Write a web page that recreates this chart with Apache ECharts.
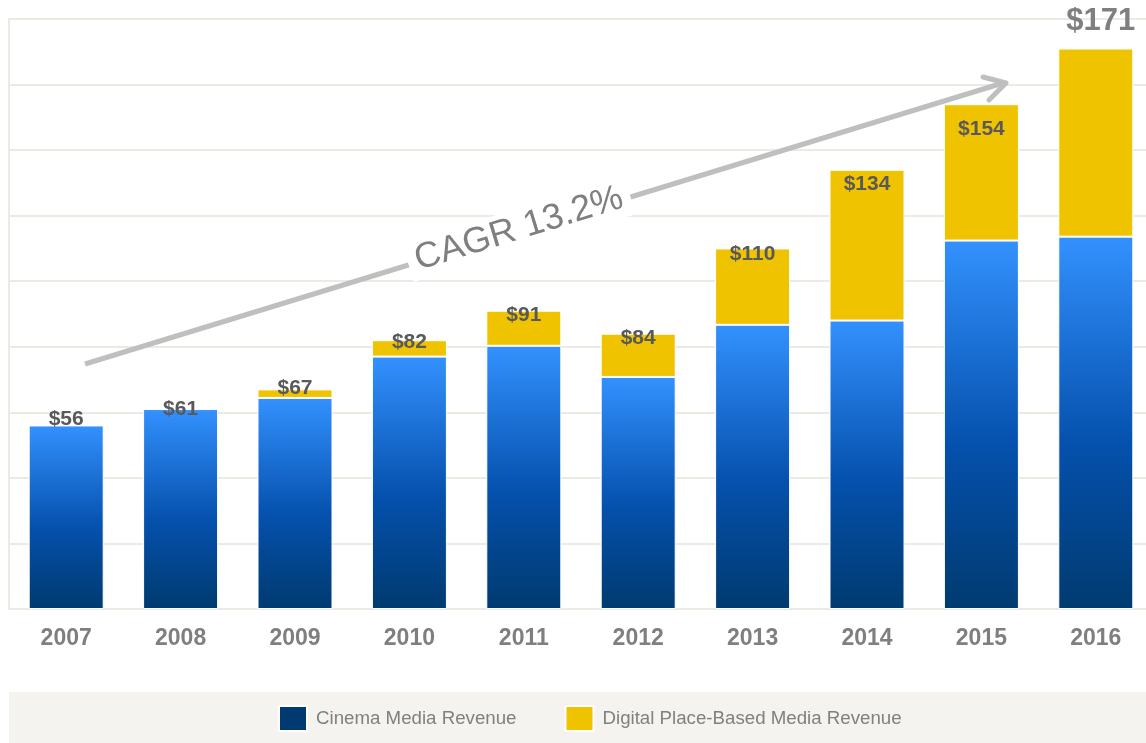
<!DOCTYPE html>
<html>
<head>
<meta charset="utf-8">
<script src="https://cdn.jsdelivr.net/npm/echarts@6/dist/echarts.min.js"></script>
<style>
  html, body { margin: 0; padding: 0; background: #fff; }
  #chart { width: 1146px; height: 743px; }
</style>
</head>
<body>
<div id="chart"></div>
<script>
// revenue ($M)
var years = ['2007', '2008', '2009', '2010', '2011', '2012', '2013', '2014', '2015', '2016']
var cinema = [56, 61, 64.4, 77, 80.3, 70.8, 86.7, 88, 112.4, 113.6]
var digital = [0, 0, 2.6, 5, 10.7, 13.2, 23.3, 46, 41.6, 57.4]
var totals = [56, 61, 67, 82, 91, 84, 110, 134, 154, 171]
var cagrText = 'CAGR 13.2%'

var chart = echarts.init(document.getElementById('chart'))

var gridColor = '#ECEAE2'
var font = 'Liberation Sans, Arial, sans-serif'

// label nudges (px, down) - the labels in the original sit at hand-placed spots
var labelNudge = [3.5, 10, 9, 11.5, 14, 14.5, 16, 24, 35, -12]

var blueGrad = new echarts.graphic.LinearGradient(0, 0, 0, 1, [
  { offset: 0, color: '#3391FE' },
  { offset: 0.55, color: '#0551AE' },
  { offset: 1, color: '#003A6F' }
])

var digitalData = digital.map(function (v, i) {
  var last = i === years.length - 1
  return {
    value: v,
    itemStyle: v === 0 ? { borderWidth: 0 } : {},
    label: {
      show: true,
      position: 'top',
      distance: 0,
      offset: [last ? 5 : 0, labelNudge[i]],
      formatter: '$' + totals[i],
      color: last ? '#7F7F7F' : '#595959',
      fontSize: last ? 31 : 21,
      lineHeight: last ? 30 : 20,
      fontWeight: 'bold',
      fontFamily: font
    }
  }
})

chart.setOption({
  animation: false,
  backgroundColor: '#fff',
  grid: { left: 9, top: 19, width: 1144, height: 590, outerBoundsMode: 'none' },
  xAxis: {
    type: 'category',
    data: years,
    axisLine: { lineStyle: { color: gridColor, width: 2 } },
    axisTick: { show: false },
    axisLabel: {
      color: '#7F7F7F',
      fontSize: 23,
      fontWeight: 'bold',
      fontFamily: font,
      margin: 18
    }
  },
  yAxis: {
    type: 'value',
    min: 0,
    max: 180,
    interval: 20,
    axisLabel: { show: false },
    axisTick: { show: false },
    axisLine: { show: true, lineStyle: { color: gridColor, width: 2 } },
    splitLine: { lineStyle: { color: gridColor, width: 2 } }
  },
  legend: {
    left: 273,
    top: 700,
    itemWidth: 28,
    itemHeight: 25,
    itemGap: 48,
    icon: 'rect',
    textStyle: { color: '#808080', fontSize: 18.7, fontFamily: font, padding: [0, 0, 0, 4] },
    data: [
      { name: 'Cinema Media Revenue', itemStyle: { color: '#003A70', borderColor: '#fff', borderWidth: 2 } },
      { name: 'Digital Place-Based Media Revenue', itemStyle: { color: '#F0C300', borderColor: '#fff', borderWidth: 2 } }
    ]
  },
  series: [
    {
      name: 'Cinema Media Revenue',
      type: 'bar',
      stack: 'rev',
      barWidth: 75,
      itemStyle: { color: blueGrad, borderColor: '#fff', borderWidth: 1 },
      data: cinema
    },
    {
      name: 'Digital Place-Based Media Revenue',
      type: 'bar',
      stack: 'rev',
      itemStyle: { color: '#F0C300', borderColor: '#fff', borderWidth: 1 },
      data: digitalData
    }
  ],
  graphic: [
    // legend band
    {
      type: 'rect',
      z: -10,
      shape: { x: 9, y: 692, width: 1137, height: 51 },
      style: { fill: '#F4F3EF' }
    },
    // growth arrow
    {
      type: 'line',
      z: 50,
      shape: { x1: 85, y1: 364, x2: 1003, y2: 83 },
      style: { stroke: '#BFBFBF', lineWidth: 5 }
    },
    {
      type: 'polyline',
      z: 50,
      shape: { points: [[983, 77], [1006, 83], [989, 100]] },
      style: { stroke: '#BFBFBF', lineWidth: 5, lineJoin: 'round', lineCap: 'round', fill: null }
    },
    {
      type: 'text',
      z: 60,
      x: 519,
      y: 229,
      rotation: 17 * Math.PI / 180,
      style: {
        text: cagrText,
        font: '36px "Liberation Sans", Arial, sans-serif',
        fill: '#7F7F7F',
        align: 'center',
        verticalAlign: 'middle',
        backgroundColor: '#fff',
        padding: [2, 8]
      }
    }
  ]
})
</script>
</body>
</html>
